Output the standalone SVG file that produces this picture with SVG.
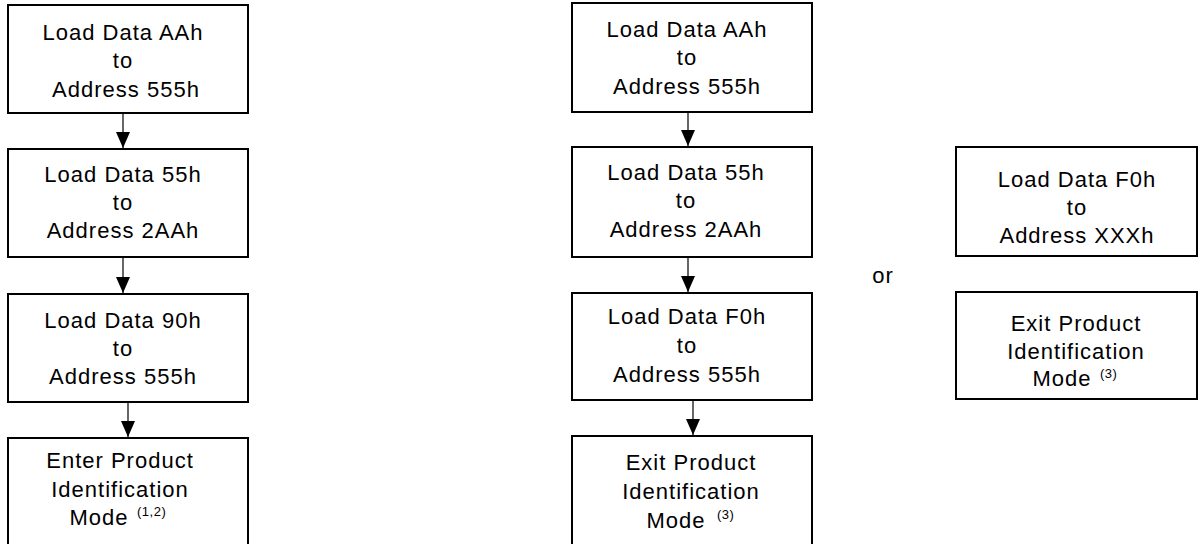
<svg xmlns="http://www.w3.org/2000/svg" width="1199" height="544" viewBox="0 0 1199 544">
<defs>
<style>
.box{fill:#fff;stroke:#000;stroke-width:2}
.t{font-family:"Liberation Sans",Arial,sans-serif;font-size:22px;letter-spacing:1px;fill:#000;text-anchor:middle}
.s{font-family:"Liberation Sans",Arial,sans-serif;font-size:13px;letter-spacing:0.5px;fill:#000}
.ln{stroke:#000;stroke-width:1.2;fill:none}
</style>
<marker id="ah" markerWidth="16" markerHeight="14" refX="16" refY="7" orient="auto" markerUnits="userSpaceOnUse" viewBox="0 0 16 14">
<path d="M0,0 L16,7 L0,14 Z" fill="#000"/>
</marker>
</defs>
<rect width="1199" height="544" fill="#fff"/>
<g id="connectors">
<line class="ln" x1="123" y1="114" x2="123" y2="148" marker-end="url(#ah)"/>
<line class="ln" x1="123" y1="258" x2="123" y2="293" marker-end="url(#ah)"/>
<line class="ln" x1="128" y1="403" x2="128" y2="437" marker-end="url(#ah)"/>
<line class="ln" x1="688" y1="113" x2="688" y2="146" marker-end="url(#ah)"/>
<line class="ln" x1="688" y1="258" x2="688" y2="292" marker-end="url(#ah)"/>
<line class="ln" x1="693" y1="401" x2="693" y2="435" marker-end="url(#ah)"/>
</g>
<g id="L1"><rect class="box" x="8" y="5" width="240" height="108"/>
<text class="t" x="123" y="40">Load Data AAh</text><text class="t" x="123" y="68">to</text><text class="t" x="126" y="97">Address 555h</text></g>
<g id="L2"><rect class="box" x="8" y="149" width="240" height="108"/>
<text class="t" x="123" y="182">Load Data 55h</text><text class="t" x="123" y="210">to</text><text class="t" x="123" y="238">Address 2AAh</text></g>
<g id="L3"><rect class="box" x="8" y="294" width="240" height="108"/>
<text class="t" x="123" y="328">Load Data 90h</text><text class="t" x="123" y="356">to</text><text class="t" x="123" y="384">Address 555h</text></g>
<g id="L4"><rect class="box" x="8" y="438" width="240" height="112"/>
<text class="t" x="120" y="468">Enter Product</text><text class="t" x="120" y="497">Identification</text><text class="t" x="99" y="525">Mode</text><text class="s" x="137" y="516">(1,2)</text></g>
<g id="M1"><rect class="box" x="572" y="3" width="240" height="109"/>
<text class="t" x="687" y="37">Load Data AAh</text><text class="t" x="687" y="65">to</text><text class="t" x="687" y="94">Address 555h</text></g>
<g id="M2"><rect class="box" x="572" y="147" width="240" height="110"/>
<text class="t" x="686" y="180">Load Data 55h</text><text class="t" x="686" y="208">to</text><text class="t" x="686" y="237">Address 2AAh</text></g>
<g id="M3"><rect class="box" x="572" y="293" width="240" height="107"/>
<text class="t" x="687" y="324">Load Data F0h</text><text class="t" x="687" y="353">to</text><text class="t" x="687" y="382">Address 555h</text></g>
<g id="M4"><rect class="box" x="572" y="436" width="240" height="114"/>
<text class="t" x="691" y="470">Exit Product</text><text class="t" x="691" y="499">Identification</text><text class="t" x="676" y="528">Mode</text><text class="s" x="717" y="519">(3)</text></g>
<g id="or"><text class="t" x="883" y="283">or</text></g>
<g id="R1"><rect class="box" x="956" y="147" width="241" height="109"/>
<text class="t" x="1077" y="187">Load Data F0h</text><text class="t" x="1077" y="215">to</text><text class="t" x="1077" y="243">Address XXXh</text></g>
<g id="R2"><rect class="box" x="956" y="292" width="241" height="107"/>
<text class="t" x="1076" y="331">Exit Product</text><text class="t" x="1076" y="359">Identification</text><text class="t" x="1062" y="386">Mode</text><text class="s" x="1100" y="378">(3)</text></g>
</svg>
